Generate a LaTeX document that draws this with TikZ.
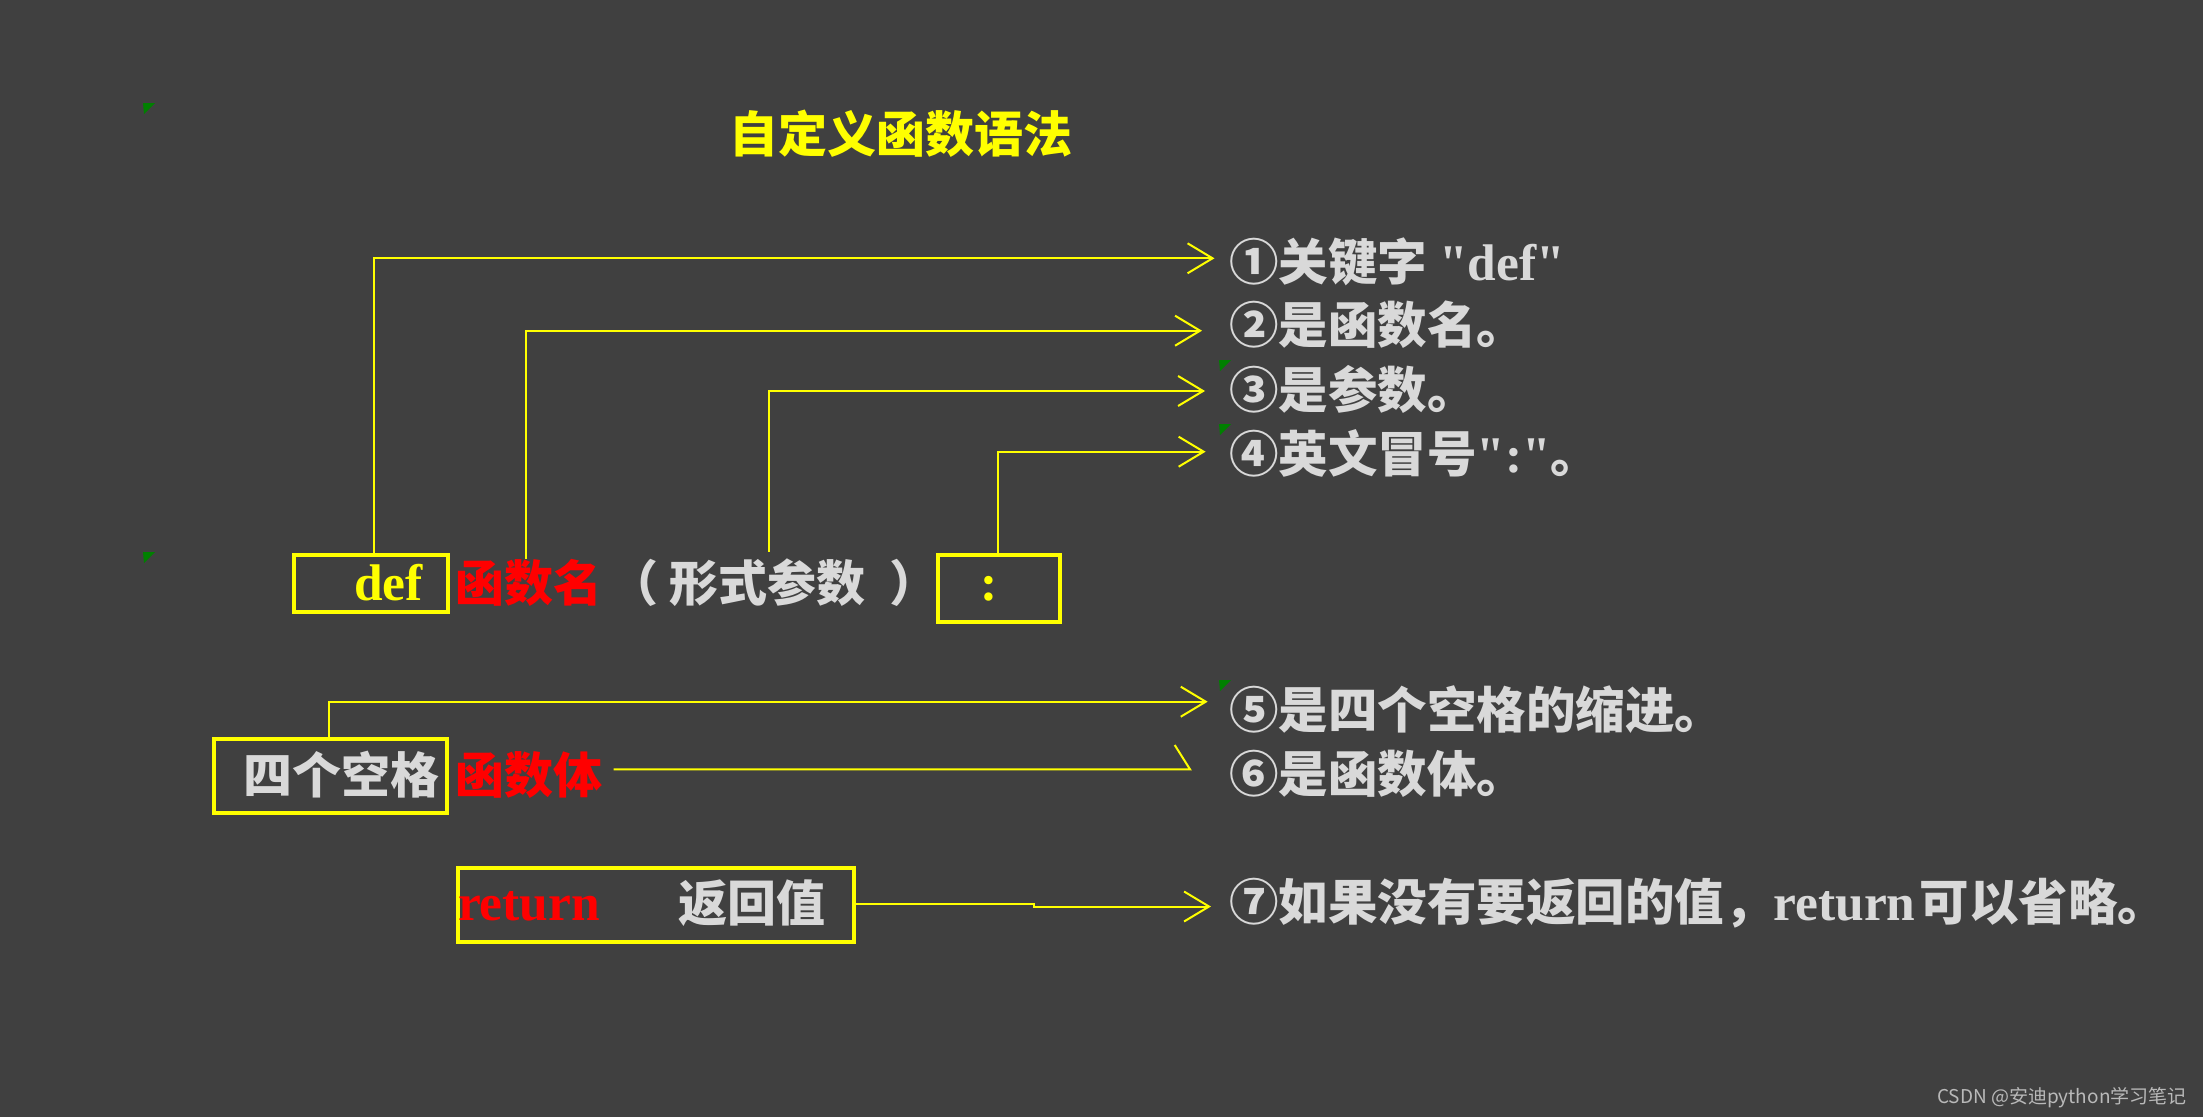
\documentclass[tikz,border=0pt]{standalone}
\usepackage{fontspec}
\setmainfont{Liberation Serif}
\newfontfamily\lat{Liberation Serif}[BoldFont={Liberation Serif Bold}]
\newfontfamily\cjk{Noto Sans CJK SC}
\newfontfamily\wmfont{Noto Sans CJK SC}
\usetikzlibrary{arrows.meta}
\definecolor{bg}{RGB}{64,64,64}
\definecolor{ylw}{RGB}{255,255,0}
\definecolor{rd}{RGB}{255,0,0}
\definecolor{lg}{RGB}{217,217,217}
\definecolor{mk}{RGB}{0,128,0}
\definecolor{wmc}{RGB}{185,185,185}
\newcommand\latb[1]{{\lat\bfseries\fontsize{51.5}{56}\selectfont #1}}
\begin{document}
\begin{tikzpicture}[x=1pt,y=-1pt,
  txt/.style={inner sep=0pt, outer sep=0pt, anchor=base west, font=\fontsize{49}{56}\selectfont\bfseries},
  lbl/.style={txt, text=lg, font=\fontsize{49.5}{56}\selectfont\bfseries},
  gtxt/.style={txt, text=lg},
  rtxt/.style={txt, text=rd},
  ytxt/.style={txt, text=ylw},
  ybox/.style={draw=ylw, line width=4pt, inner sep=0pt, outer sep=0pt, anchor=north west},
  conn/.style={draw=ylw, line width=2pt},
  arr/.style={conn, -{Straight Barb[length=25pt,width=30pt]}},
  flagmk/.style={fill=mk}
]
\fill[bg] (0,0) rectangle (2203,1117);
\useasboundingbox (0,0) rectangle (2203,1117);

% title
\node[ytxt] (title) at (729.5,152.5) {\cjk 自定义函数语法};

% boxes
\node[ybox, minimum width=154.2pt, minimum height=57.3pt] (defbox) at (293.5,554.7) {};
\node[ybox, minimum width=122pt, minimum height=67.3pt] (colonbox) at (938,554.7) {};
\node[ybox, minimum width=233.8pt, minimum height=73.4pt] (spbox) at (213.6,739.3) {};
\node[ybox, minimum width=395.8pt, minimum height=74pt] (retbox) at (457.7,868) {};

% code texts
\node[ytxt] (deftxt) at (354,600.5) {\latb{def}};
\node[rtxt] (fname) at (455.5,601.5) {\cjk 函数名};
\node[gtxt] (lparen) at (609,601.5) {\cjk （};
\node[gtxt] (params) at (669.5,601.5) {\cjk 形式参数};
\node[gtxt] (rparen) at (889,601.5) {\cjk ）};
\node[ytxt, anchor=base] (colon) at (989,600.5) {\latb{:}};
\node[gtxt] (sptxt) at (243,793) {\cjk 四个空格};
\node[rtxt] (fbody) at (455.5,793) {\cjk 函数体};
\node[rtxt] (rettxt) at (458,920) {\latb{return}};
\node[gtxt] (retval) at (678,921) {\cjk 返回值};

% labels
\node[lbl] (l1) at (1229,280.5) {{\cjk ①关键字} \latb{"def"}};
\node[lbl] (l2) at (1229,343.5) {\cjk ②是函数名。};
\node[lbl] (l3) at (1229,408.5) {\cjk ③是参数。};
\node[lbl] (l4) at (1229,472.5) {{\cjk ④英文冒号}\latb{":"}{\cjk 。}};
\node[lbl] (l5) at (1229,728.5) {\cjk ⑤是四个空格的缩进。};
\node[lbl] (l6) at (1229,792.5) {\cjk ⑥是函数体。};
\node[lbl] (l7) at (1229,920.5) {{\cjk ⑦如果没有要返回的值，}\latb{return}\kern4pt{\cjk 可以省略。}};

% watermark
\node[inner sep=0pt, anchor=base west, text=wmc, font=\wmfont\fontsize{19}{22}\selectfont] (wm) at (1937,1103) {CSDN @安迪python学习笔记};

% connector coordinates
\coordinate (b1) at (374.4,258.3);   \coordinate (tip1) at (1214.5,258.3);
\coordinate (b2) at (525.6,330.7);   \coordinate (tip2) at (1202,330.7);
\coordinate (b3) at (768.7,391);     \coordinate (tip3) at (1205,391);
\coordinate (b4) at (997.8,451.7);   \coordinate (tip4) at (1205.6,451.7);
\coordinate (b5) at (329.4,701.7);   \coordinate (tip5) at (1207.7,701.7);
\coordinate (s6) at (613.5,769.3);   \coordinate (tip6) at (1190,769.3);  \coordinate (wing6) at (1174.7,745);
\coordinate (j7a) at (1034.4,904);   \coordinate (j7b) at (1034.4,906.5); \coordinate (tip7) at (1211,906.5);

% connectors
\draw[arr] (defbox.north -| b1) -- (b1) -- (tip1);
\draw[arr] (fname.north -| b2) -- (b2) -- (tip2);
\draw[arr] ([yshift=7pt]params.north -| b3) -- (b3) -- (tip3);
\draw[arr] (colonbox.north -| b4) -- (b4) -- (tip4);
\draw[arr] (spbox.north -| b5) -- (b5) -- (tip5);
\draw[conn] (s6) -- (tip6) -- (wing6);
\draw[arr] (retbox.east |- j7a) -- (j7a) -- (j7b) -- (tip7);

% small green markers
\fill[flagmk] (143,103) -- (155,103) -- (144,114) -- cycle;
\fill[flagmk] (143,552) -- (155,552) -- (144,563) -- cycle;
\fill[flagmk] (1219,360) -- (1231,360) -- (1220,371) -- cycle;
\fill[flagmk] (1219,424) -- (1231,424) -- (1220,435) -- cycle;
\fill[flagmk] (1219,680) -- (1231,680) -- (1220,691) -- cycle;
\end{tikzpicture}
\end{document}
